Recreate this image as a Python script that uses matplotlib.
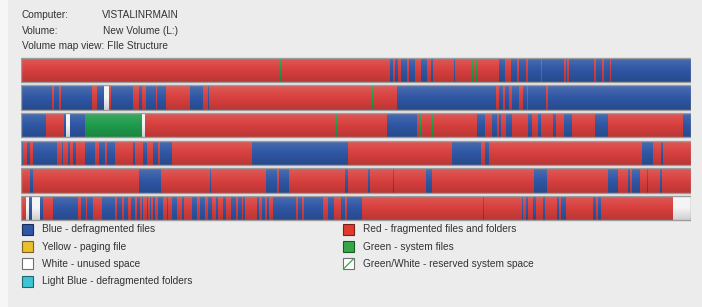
import numpy as np
import matplotlib.pyplot as plt
from matplotlib.patches import Rectangle

plt.rcParams['font.family'] = ['Liberation Sans', 'DejaVu Sans']

# ---------------- data: volume map, (start block, colour code) per row ----------------
# B = defragmented, R = fragmented, G = system, W = unused ; every row ends at block 691
row_end = 691
row1 = [(21, 'R'), (280, 'G'), (281, 'R'), (390, 'B'), (393, 'R'), (395, 'B'), (398, 'R'), (401, 'B'),
        (407, 'R'), (409, 'B'), (415, 'R'), (421, 'B'), (427, 'R'), (431, 'B'), (433, 'R'), (454, 'B'),
        (455, 'R'), (472, 'G'), (473, 'R'), (476, 'G'), (477, 'R'), (499, 'B'), (505, 'R'), (511, 'B'),
        (517, 'R'), (519, 'B'), (526, 'R'), (528, 'B'), (541, 'R'), (542, 'B'), (564, 'R'), (566, 'B'),
        (567, 'R'), (569, 'B'), (594, 'R'), (596, 'B'), (602, 'R'), (604, 'B'), (610, 'R'), (611, 'B')]
row2 = [(21, 'B'), (52, 'R'), (54, 'B'), (59, 'R'), (61, 'B'), (92, 'R'), (97, 'B'), (104, 'W'),
        (109, 'R'), (111, 'B'), (133, 'R'), (139, 'B'), (142, 'R'), (146, 'B'), (156, 'R'), (157, 'B'),
        (166, 'R'), (190, 'B'), (203, 'R'), (208, 'B'), (209, 'R'), (372, 'G'), (373, 'R'), (397, 'B'),
        (496, 'R'), (499, 'B'), (503, 'R'), (505, 'B'), (509, 'R'), (512, 'B'), (519, 'R'), (523, 'B'),
        (527, 'R'), (528, 'B'), (546, 'R'), (548, 'B')]
row3 = [(21, 'B'), (46, 'R'), (64, 'B'), (66, 'W'), (70, 'B'), (85, 'G'), (142, 'W'), (145, 'R'),
        (336, 'G'), (337, 'R'), (387, 'B'), (417, 'R'), (419, 'G'), (422, 'R'), (431, 'G'), (433, 'R'),
        (477, 'B'), (485, 'R'), (492, 'B'), (497, 'R'), (499, 'B'), (501, 'R'), (506, 'B'), (512, 'R'),
        (528, 'B'), (532, 'R'), (538, 'B'), (541, 'R'), (553, 'B'), (556, 'R'), (564, 'B'), (572, 'R'),
        (595, 'B'), (608, 'R'), (683, 'B')]
row4 = [(21, 'B'), (23, 'R'), (27, 'B'), (30, 'R'), (33, 'B'), (57, 'R'), (62, 'B'), (63, 'R'),
        (68, 'B'), (70, 'R'), (73, 'B'), (76, 'R'), (85, 'B'), (95, 'R'), (99, 'B'), (105, 'R'),
        (107, 'B'), (115, 'R'), (133, 'B'), (135, 'R'), (143, 'B'), (147, 'R'), (153, 'B'), (158, 'R'),
        (160, 'B'), (172, 'R'), (252, 'B'), (348, 'R'), (452, 'B'), (481, 'R'), (485, 'B'), (489, 'R'),
        (642, 'B'), (653, 'R'), (661, 'B'), (663, 'R')]
row5 = [(21, 'R'), (30, 'B'), (33, 'R'), (139, 'B'), (161, 'R'), (210, 'B'), (211, 'R'), (266, 'B'),
        (277, 'R'), (279, 'B'), (289, 'R'), (345, 'B'), (348, 'R'), (368, 'B'), (370, 'R'), (393, 'B'),
        (394, 'R'), (426, 'B'), (432, 'R'), (534, 'B'), (547, 'R'), (608, 'B'), (618, 'R'), (628, 'B'),
        (630, 'R'), (632, 'B'), (640, 'R'), (647, 'B'), (648, 'R'), (660, 'B'), (662, 'R')]
row6 = [(21, 'R'), (26, 'W'), (29, 'B'), (32, 'W'), (40, 'B'), (43, 'R'), (53, 'B'), (78, 'R'),
        (81, 'B'), (86, 'R'), (87, 'B'), (93, 'R'), (102, 'B'), (115, 'R'), (117, 'B'), (122, 'R'),
        (124, 'B'), (128, 'R'), (131, 'B'), (135, 'R'), (137, 'B'), (140, 'R'), (142, 'B'), (143, 'R'),
        (147, 'B'), (148, 'R'), (150, 'B'), (151, 'R'), (153, 'B'), (155, 'R'), (158, 'B'), (163, 'R'),
        (167, 'B'), (168, 'R'), (172, 'B'), (177, 'R'), (182, 'B'), (184, 'R'), (192, 'B'), (197, 'R'),
        (200, 'B'), (205, 'R'), (208, 'B'), (212, 'R'), (216, 'B'), (218, 'R'), (223, 'B'), (226, 'R'),
        (231, 'B'), (236, 'R'), (238, 'B'), (242, 'R'), (243, 'B'), (245, 'R'), (257, 'B'), (259, 'R'),
        (262, 'B'), (265, 'R'), (267, 'B'), (269, 'R'), (273, 'B'), (296, 'R'), (298, 'B'), (302, 'R'),
        (304, 'B'), (323, 'R'), (328, 'B'), (334, 'R'), (341, 'B'), (345, 'R'), (347, 'B'), (362, 'R'),
        (483, 'B'), (484, 'R'), (522, 'B'), (523, 'R'), (526, 'B'), (528, 'R'), (533, 'B'), (536, 'R'),
        (543, 'B'), (545, 'R'), (557, 'B'), (559, 'R'), (561, 'B'), (566, 'R'), (593, 'B'), (596, 'R'),
        (598, 'B'), (601, 'R'), (673, 'W')]
rows = [row1, row2, row3, row4, row5, row6]

header_keys = ['Computer:', 'Volume:', 'Volume map view: FIle Structure']
header_vals = ['VISTALINRMAIN', 'New Volume (L:)', '']
legend_left = ['Blue - defragmented files', 'Yellow - paging file',
               'White - unused space', 'Light Blue - defragmented folders']
legend_right = ['Red - fragmented files and folders', 'Green - system files',
                'Green/White - reserved system space']

colors = {'B': '#2f57a4', 'R': '#d8403e', 'G': '#1f9c4c', 'W': '#f4f4f4'}
bg = '#ececec'

# ---------------- figure ----------------
fig = plt.figure(figsize=(7.02, 3.07), dpi=100, facecolor=bg)

# overlay axes in pixel coords for text / legend
tx = fig.add_axes([0, 0, 1, 1])
tx.set_xlim(0, 702)
tx.set_ylim(307, 0)
tx.axis('off')
tx.add_patch(Rectangle((0, 0), 8, 307, color='#f6f6f6', lw=0))

# map axes
ax = fig.add_axes([21 / 702, 1 - 222 / 307, 670 / 702, 166 / 307])
ax.set_xlim(21, row_end)
ax.set_ylim(5.5, -0.5)
ax.axis('off')

bar_h = 0.88
grad = np.zeros((64, 1, 4))
t = np.linspace(0, 1, 64)
grad[:, 0, :3] = np.where(t[:, None] < 0.5, 1.0, 0.0)
grad[:, 0, 3] = np.abs(t - 0.5) * 0.30

for i, row in enumerate(rows):
    starts = np.array([s for s, c in row] + [row_end])
    cols = [colors[c] for s, c in row]
    ax.barh(i, np.diff(starts), left=starts[:-1], height=bar_h, color=cols, lw=0)
    ax.imshow(grad, extent=(21, row_end, i + bar_h / 2, i - bar_h / 2), aspect='auto',
              interpolation='bilinear', zorder=3)
    ax.add_patch(Rectangle((21, i - bar_h / 2), row_end - 21, bar_h, fill=False,
                           ec='#9c9c9c', lw=1.0, zorder=4))
ax.set_xlim(21, row_end)
ax.set_ylim(5.5, -0.5)

# header text
fs = 7.3
for k, (key, val) in enumerate(zip(header_keys, header_vals)):
    y = 15 + k * 15.5
    tx.text(22, y, key, fontsize=fs, color='#333333', va='center')
    if val:
        tx.text(102 + k, y, val, fontsize=fs, color='#333333', va='center')

# legend
sw_left = [('#2f57a4', '#1a2e5c'), ('#e8c02c', '#7a6420'), ('#ffffff', '#707070'), ('#3ec4d2', '#206870')]
for k, lab in enumerate(legend_left):
    y = 229.5 + k * 17.2
    fc, ec = sw_left[k]
    tx.add_patch(Rectangle((22, y - 5.5), 11, 11, fc=fc, ec=ec, lw=0.8))
    tx.text(42, y, lab, fontsize=fs, color='#333333', va='center')

sw_right = [('#e03a30', '#7a2018'), ('#35a845', '#1c5a24'), ('#ffffff', '#707070')]
for k, lab in enumerate(legend_right):
    y = 229.5 + k * 17.2
    fc, ec = sw_right[k]
    tx.add_patch(Rectangle((343, y - 5.5), 11, 11, fc=fc, ec=ec, lw=0.8))
    if k == 2:
        tx.plot([344, 353], [y + 4.5, y - 4.5], color='#35a845', lw=0.9)
    tx.text(363, y, lab, fontsize=fs, color='#333333', va='center')

fig.savefig('out.png', dpi=100, facecolor=bg)
